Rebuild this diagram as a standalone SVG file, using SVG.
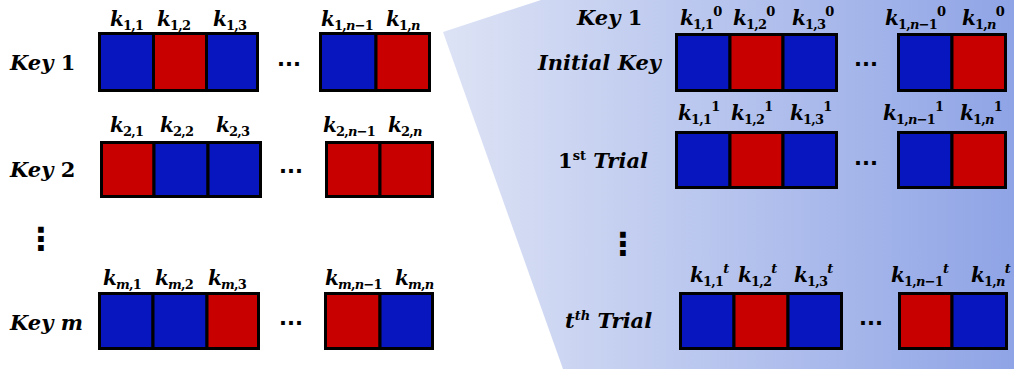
<svg xmlns="http://www.w3.org/2000/svg" width="1014" height="369" viewBox="0 0 1014 369">
<defs>
<linearGradient id="bg" x1="443" y1="0" x2="1014" y2="0" gradientUnits="userSpaceOnUse">
<stop offset="0" stop-color="#dde3f5"/>
<stop offset="1" stop-color="#8fa4e6"/>
</linearGradient>
<style>
.b{fill:#0716bf;stroke:#000;stroke-width:3}
.r{fill:#c80000;stroke:#000;stroke-width:3}
.t{font-family:"DejaVu Serif",serif;font-weight:bold;fill:#000}
.key{font-size:21px;font-style:italic}
.up{font-style:normal}
.lb{font-size:20px;letter-spacing:-0.8px}
.i{font-style:italic}
.s{font-size:13px}
.dots{font-family:"DejaVu Sans",sans-serif;font-weight:bold;font-size:21px;fill:#000}
.vd{font-family:"DejaVu Sans",sans-serif;font-weight:bold;font-size:32px;fill:#000;text-anchor:middle}
</style>
</defs>
<rect width="1014" height="369" fill="#fff"/>
<polygon id="trial-panel" points="443,32 541,0 1014,0 1014,369 563,369" fill="url(#bg)"/>

<g id="connectors"/>

<g id="key1">
<text class="t key" x="10" y="70">Key <tspan class="up">1</tspan></text>
<rect class="b" x="99.5" y="33.5" width="54" height="57"/>
<rect class="r" x="153.5" y="33.5" width="53" height="57"/>
<rect class="b" x="206.5" y="33.5" width="51" height="57"/>
<rect class="b" x="320.5" y="33.5" width="55.5" height="57"/>
<rect class="r" x="376" y="33.5" width="53.5" height="57"/>
<text class="dots" x="277" y="66">...</text>
<text class="t lb" x="110" y="26"><tspan class="i">k</tspan><tspan class="s" dy="4">1,1</tspan></text>
<text class="t lb" x="157" y="26"><tspan class="i">k</tspan><tspan class="s" dy="4">1,2</tspan></text>
<text class="t lb" x="213" y="26"><tspan class="i">k</tspan><tspan class="s" dy="4">1,3</tspan></text>
<text class="t lb" x="321" y="26"><tspan class="i">k</tspan><tspan class="s" dy="4">1,<tspan class="i">n</tspan>−1</tspan></text>
<text class="t lb" x="386" y="26"><tspan class="i">k</tspan><tspan class="s" dy="4">1,<tspan class="i">n</tspan></tspan></text>
</g>

<g id="key2">
<text class="t key" x="10" y="177">Key <tspan class="up">2</tspan></text>
<rect class="r" x="101.5" y="142.5" width="52.5" height="54"/>
<rect class="b" x="154" y="142.5" width="54" height="54"/>
<rect class="b" x="208" y="142.5" width="52.5" height="54"/>
<rect class="r" x="326.5" y="142.5" width="53.5" height="54"/>
<rect class="r" x="380" y="142.5" width="52.5" height="54"/>
<text class="dots" x="279" y="173">...</text>
<text class="t lb" x="110" y="132"><tspan class="i">k</tspan><tspan class="s" dy="4">2,1</tspan></text>
<text class="t lb" x="160" y="132"><tspan class="i">k</tspan><tspan class="s" dy="4">2,2</tspan></text>
<text class="t lb" x="216" y="132"><tspan class="i">k</tspan><tspan class="s" dy="4">2,3</tspan></text>
<text class="t lb" x="323" y="132"><tspan class="i">k</tspan><tspan class="s" dy="4">2,<tspan class="i">n</tspan>−1</tspan></text>
<text class="t lb" x="388" y="132"><tspan class="i">k</tspan><tspan class="s" dy="4">2,<tspan class="i">n</tspan></tspan></text>
</g>

<g id="vdots-left">
<text class="vd" x="41" y="250">⋮</text>
</g>

<g id="keym">
<text class="t key" x="10" y="330">Key m</text>
<rect class="b" x="99.5" y="293.5" width="53.5" height="55"/>
<rect class="b" x="153" y="293.5" width="54" height="55"/>
<rect class="r" x="207" y="293.5" width="51.5" height="55"/>
<rect class="r" x="325.5" y="293.5" width="54.5" height="55"/>
<rect class="b" x="380" y="293.5" width="52.5" height="55"/>
<text class="dots" x="279" y="325">...</text>
<text class="t lb" x="103" y="285"><tspan class="i">k</tspan><tspan class="s" dy="4"><tspan class="i">m</tspan>,1</tspan></text>
<text class="t lb" x="155" y="285"><tspan class="i">k</tspan><tspan class="s" dy="4"><tspan class="i">m</tspan>,2</tspan></text>
<text class="t lb" x="208" y="285"><tspan class="i">k</tspan><tspan class="s" dy="4"><tspan class="i">m</tspan>,3</tspan></text>
<text class="t lb" x="325" y="285"><tspan class="i">k</tspan><tspan class="s" dy="4"><tspan class="i">m</tspan>,<tspan class="i">n</tspan>−1</tspan></text>
<text class="t lb" x="395" y="285"><tspan class="i">k</tspan><tspan class="s" dy="4"><tspan class="i">m</tspan>,<tspan class="i">n</tspan></tspan></text>
</g>

<g id="initial-key">
<text class="t key" x="577" y="25">Key <tspan class="up">1</tspan></text>
<text class="t key" x="538" y="70">Initial Key</text>
<rect class="b" x="676.5" y="34.5" width="53.5" height="56"/>
<rect class="r" x="730" y="34.5" width="53" height="56"/>
<rect class="b" x="783" y="34.5" width="53.5" height="56"/>
<rect class="b" x="898.5" y="34.5" width="53.5" height="56"/>
<rect class="r" x="952" y="34.5" width="53.5" height="56"/>
<text class="dots" x="854" y="66">...</text>
<text class="t lb" x="680" y="25"><tspan class="i">k</tspan><tspan class="s" dy="4">1,1</tspan><tspan class="s" dy="-13">0</tspan></text>
<text class="t lb" x="733" y="25"><tspan class="i">k</tspan><tspan class="s" dy="4">1,2</tspan><tspan class="s" dy="-13">0</tspan></text>
<text class="t lb" x="792" y="25"><tspan class="i">k</tspan><tspan class="s" dy="4">1,3</tspan><tspan class="s" dy="-13">0</tspan></text>
<text class="t lb" x="885" y="25"><tspan class="i">k</tspan><tspan class="s" dy="4">1,<tspan class="i">n</tspan>−1</tspan><tspan class="s" dy="-13">0</tspan></text>
<text class="t lb" x="962" y="25"><tspan class="i">k</tspan><tspan class="s" dy="4">1,<tspan class="i">n</tspan></tspan><tspan class="s" dy="-13">0</tspan></text>
</g>

<g id="trial-1">
<text class="t key" x="558" y="168"><tspan class="up">1</tspan><tspan class="s up" dy="-8">st</tspan><tspan dy="8"> Trial</tspan></text>
<rect class="b" x="676.5" y="132.5" width="53.5" height="55"/>
<rect class="r" x="730" y="132.5" width="53" height="55"/>
<rect class="b" x="783" y="132.5" width="53.5" height="55"/>
<rect class="b" x="898.5" y="132.5" width="53.5" height="55"/>
<rect class="r" x="952" y="132.5" width="53.5" height="55"/>
<text class="dots" x="854" y="165">...</text>
<text class="t lb" x="678" y="120"><tspan class="i">k</tspan><tspan class="s" dy="4">1,1</tspan><tspan class="s" dy="-13">1</tspan></text>
<text class="t lb" x="731" y="120"><tspan class="i">k</tspan><tspan class="s" dy="4">1,2</tspan><tspan class="s" dy="-13">1</tspan></text>
<text class="t lb" x="790" y="120"><tspan class="i">k</tspan><tspan class="s" dy="4">1,3</tspan><tspan class="s" dy="-13">1</tspan></text>
<text class="t lb" x="883" y="120"><tspan class="i">k</tspan><tspan class="s" dy="4">1,<tspan class="i">n</tspan>−1</tspan><tspan class="s" dy="-13">1</tspan></text>
<text class="t lb" x="960" y="120"><tspan class="i">k</tspan><tspan class="s" dy="4">1,<tspan class="i">n</tspan></tspan><tspan class="s" dy="-13">1</tspan></text>
</g>

<g id="vdots-right">
<text class="vd" x="623" y="255">⋮</text>
</g>

<g id="trial-t">
<text class="t key" x="565" y="328">t<tspan class="s" dy="-8">th</tspan><tspan dy="8"> Trial</tspan></text>
<rect class="b" x="680.5" y="293.5" width="53.5" height="55"/>
<rect class="r" x="734" y="293.5" width="54" height="55"/>
<rect class="b" x="788" y="293.5" width="53.5" height="55"/>
<rect class="r" x="899.5" y="293.5" width="52.5" height="55"/>
<rect class="b" x="952" y="293.5" width="54.5" height="55"/>
<text class="dots" x="859" y="325">...</text>
<text class="t lb" x="690" y="282"><tspan class="i">k</tspan><tspan class="s" dy="4">1,1</tspan><tspan class="s i" dy="-13">t</tspan></text>
<text class="t lb" x="738" y="282"><tspan class="i">k</tspan><tspan class="s" dy="4">1,2</tspan><tspan class="s i" dy="-13">t</tspan></text>
<text class="t lb" x="794" y="282"><tspan class="i">k</tspan><tspan class="s" dy="4">1,3</tspan><tspan class="s i" dy="-13">t</tspan></text>
<text class="t lb" x="891" y="282"><tspan class="i">k</tspan><tspan class="s" dy="4">1,<tspan class="i">n</tspan>−1</tspan><tspan class="s i" dy="-13">t</tspan></text>
<text class="t lb" x="971" y="282"><tspan class="i">k</tspan><tspan class="s" dy="4">1,<tspan class="i">n</tspan></tspan><tspan class="s i" dy="-13">t</tspan></text>
</g>
</svg>
